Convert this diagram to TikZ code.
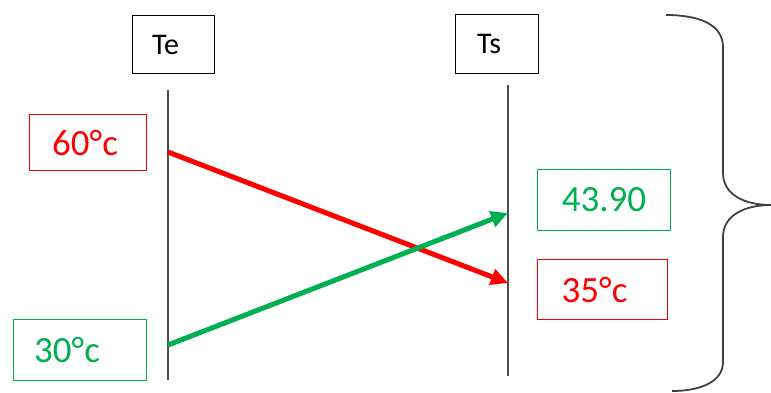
\documentclass[tikz,border=0pt]{standalone}
\usepackage{fontspec}
\setmainfont{Carlito}
\usetikzlibrary{arrows.meta}
\definecolor{offgreen}{RGB}{0,176,80}
\definecolor{offred}{RGB}{255,0,0}
\begin{document}
\begin{tikzpicture}[x=1pt,y=-1pt,
  hdrbox/.style={draw=black, line width=1.3pt, inner sep=0pt, font=\fontsize{30}{32}\selectfont},
  redbox/.style={draw=offred, line width=1.1pt, inner sep=0pt, text=offred, font=\fontsize{37}{40}\selectfont},
  grnbox/.style={draw=offgreen, line width=1.1pt, inner sep=0pt, text=offgreen, font=\fontsize{37}{40}\selectfont},
  timeline/.style={draw=black!70, line width=1.6pt},
  redarrow/.style={draw=offred, line width=5pt, -{Triangle[length=17pt,width=16pt]}},
  grnarrow/.style={draw=offgreen, line width=5pt, -{Triangle[length=17pt,width=16pt]}},
  bracestyle/.style={draw=black!75, line width=1.8pt}
]
\useasboundingbox (0,0) rectangle (771,392);

% header boxes
\node[hdrbox, minimum width=82pt, minimum height=58pt, anchor=north west,
      label={[xshift=-8pt, font=\fontsize{30}{32}\selectfont]center:Te}] (te) at (132,15) {};
\node[hdrbox, minimum width=83pt, minimum height=59pt, anchor=north west,
      label={[xshift=-8pt, font=\fontsize{30}{32}\selectfont]center:Ts}] (ts) at (455,14) {};

% time lines
\coordinate (teTop) at (168,90);
\coordinate (teBot) at (168,380);
\coordinate (tsTop) at (508,85);
\coordinate (tsBot) at (508,376);
\draw[timeline] (teTop) -- (teBot);
\draw[timeline] (tsTop) -- (tsBot);

% value boxes
\node[redbox, minimum width=117pt, minimum height=56pt, anchor=north west,
      label={[xshift=-3pt, text=offred, font=\fontsize{37}{40}\selectfont]center:60°c}] (v60) at (29,114) {};
\node[grnbox, minimum width=133pt, minimum height=61pt, anchor=north west] (v43) at (537,169) {43.90};
\node[redbox, minimum width=130pt, minimum height=60pt, anchor=north west,
      label={[xshift=-8pt, text=offred, font=\fontsize{37}{40}\selectfont]center:35°c}] (v35) at (537,259) {};
\node[grnbox, minimum width=133pt, minimum height=61pt, anchor=north west,
      label={[xshift=-13pt, text=offgreen, font=\fontsize{37}{40}\selectfont]center:30°c}] (v30) at (13,319) {};

% arrows
\coordinate (rs) at (168,152);
\coordinate (re) at (508,283);
\coordinate (gs) at (168,345);
\coordinate (ge) at (508,213);
\draw[redarrow] (rs) -- (re);
\draw[grnarrow] (gs) -- (ge);

% brace
\coordinate (b1) at (666,15);
\coordinate (b2) at (723,47);
\coordinate (b3) at (723,173);
\coordinate (tip) at (771,205);
\coordinate (b4) at (723,237);
\coordinate (b5) at (723,362);
\coordinate (b6) at (672,391);
\draw[bracestyle] (b1) .. controls (700,15) and (723,25) .. (b2) -- (b3)
  .. controls (723,195) and (745,205) .. (tip)
  .. controls (745,205) and (723,215) .. (b4) -- (b5)
  .. controls (723,382) and (700,391) .. (b6);
\end{tikzpicture}
\end{document}
